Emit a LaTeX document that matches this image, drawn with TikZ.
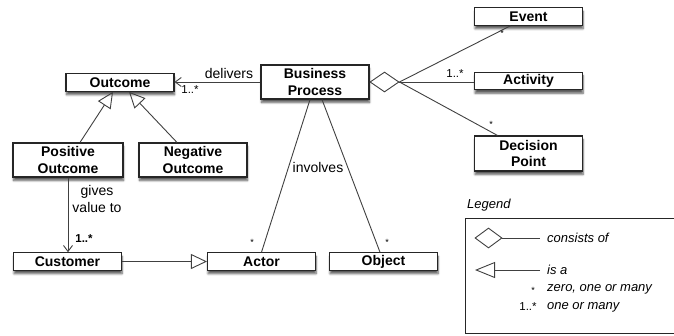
\documentclass[tikz,border=0pt]{standalone}
\usepackage{fontspec}
\setmainfont{Liberation Sans}
\usetikzlibrary{arrows.meta,shapes.geometric,shadows.blur,calc}
\begin{document}
\begin{tikzpicture}[x=1pt,y=-1pt,
  cls/.style={draw=black!85, line width=1.1pt, fill=white, inner sep=0pt,
    minimum width=108pt, minimum height=17.5pt, align=center,
    font=\bfseries\fontsize{14}{16.5}\selectfont,
    blur shadow={shadow xshift=0.5pt, shadow yshift=-3.5pt, shadow blur steps=6, shadow opacity=65}},
  conn/.style={draw=black!75, line width=0.9pt},
  lab/.style={inner sep=0pt, font=\fontsize{14}{17}\selectfont},
  mult/.style={inner sep=0pt, font=\fontsize{11.5}{13}\selectfont},
  star/.style={inner sep=0pt, font=\fontsize{9}{10}\selectfont},
  leg/.style={inner sep=0pt, anchor=west, font=\itshape\fontsize{13}{15}\selectfont},
  gen/.style={conn, -{Triangle[open, length=16pt, width=15pt]}},
  nav/.style={conn, -{Straight Barb[length=6pt, width=9pt]}},
  agg/.style={draw=black!75, line width=0.9pt, fill=white, diamond, inner sep=0pt}
]
\useasboundingbox (0,0) rectangle (674,335);

% class boxes
\node[cls] (event) at (528.5,16.5) {Event};
\node[cls] (activity) at (528.5,81) {Activity};
\node[cls, minimum height=35pt] (decision) at (528.5,153.5) {Decision\\Point};
\node[cls, minimum height=34pt] (bp) at (315,82) {Business\\Process};
\node[cls] (outcome) at (120,82.5) {Outcome};
\node[cls, minimum width=110pt, minimum height=34pt] (pos) at (68,160) {Positive\\Outcome};
\node[cls, minimum height=34pt] (neg) at (193,160) {Negative\\Outcome};
\node[cls] (customer) at (67.5,261.5) {Customer};
\node[cls] (actor) at (261.5,261.5) {Actor};
\node[cls] (object) at (383.5,261.5) {Object};

% aggregation diamond
\node[agg, minimum width=29pt, minimum height=20pt, anchor=west] (dia) at (bp.east) {};
\coordinate (evt) at ($(event.south)+(-18,0)$);
\coordinate (dec) at ($(decision.north)+(-31,0)$);
\draw[conn] (dia.east) -- (evt);
\draw[conn] (dia.east) -- (activity.west |- dia.east);
\draw[conn] (dia.east) -- (dec);
\node[star] (m1) at (502,33) {*};
\node[mult] (m2) at (455,74) {1..*};
\node[star] (m3) at (491,124) {*};

% delivers
\draw[nav] (bp.west) -- (outcome.east |- bp.west);
\node[lab] (deliv) at (229,73) {delivers};
\node[mult] (m4) at (190,90) {1..*};

% generalisations to Outcome
\coordinate (p1) at ($(pos.north)+(12,0)$);
\coordinate (o1) at ($(outcome.south)+(-7,0)$);
\coordinate (n1) at ($(neg.north)+(-16,0)$);
\coordinate (o2) at ($(outcome.south)+(9,0)$);
\draw[gen] (p1) -- (o1);
\draw[gen] (n1) -- (o2);

% gives value to
\draw[nav] (pos.south) -- (pos.south |- customer.north);
\node[lab, align=center] (gives) at (97,198.5) {gives\\value to};
\node[mult] (m5) at (84,239) {\bfseries 1..*};

% customer is an actor
\draw[gen] (customer.east) -- (actor.west);

% involves
\coordinate (b1) at ($(bp.south)+(-5,0)$);
\coordinate (b2) at ($(bp.south)+(7,0)$);
\coordinate (o3) at ($(object.north)+(-3.5,0)$);
\draw[conn] (b1) -- (actor.north);
\draw[conn] (b2) -- (o3);
\node[lab] (inv) at (318,167) {involves};
\node[star] (m6) at (252,242) {*};
\node[star] (m7) at (387,242) {*};

% legend
\node[leg] (legend) at (467,205) {Legend};
\draw[line width=0.9pt, draw=black!85] (674,218) -- (465,218) -- (465,333) -- (674,333);
\node[agg, minimum width=27pt, minimum height=20pt] (ldia) at (488.5,238) {};
\coordinate (lend1) at (540,238);
\draw[conn] (ldia.east) -- (lend1);
\coordinate (lend2) at (540,270);
\coordinate (ltip) at (475,270);
\draw[gen, -{Triangle[open, length=20pt, width=16pt]}] (lend2) -- (ltip);
\node[leg] (l1) at (547,238) {consists of};
\node[leg] (l2) at (547,270) {is a};
\node[star] (l3s) at (533,290) {*};
\node[leg] (l3) at (547,289) {zero, one or many};
\node[mult] (l4s) at (528,307) {1..*};
\node[leg] (l4) at (547,307) {one or many};
\end{tikzpicture}
\end{document}
